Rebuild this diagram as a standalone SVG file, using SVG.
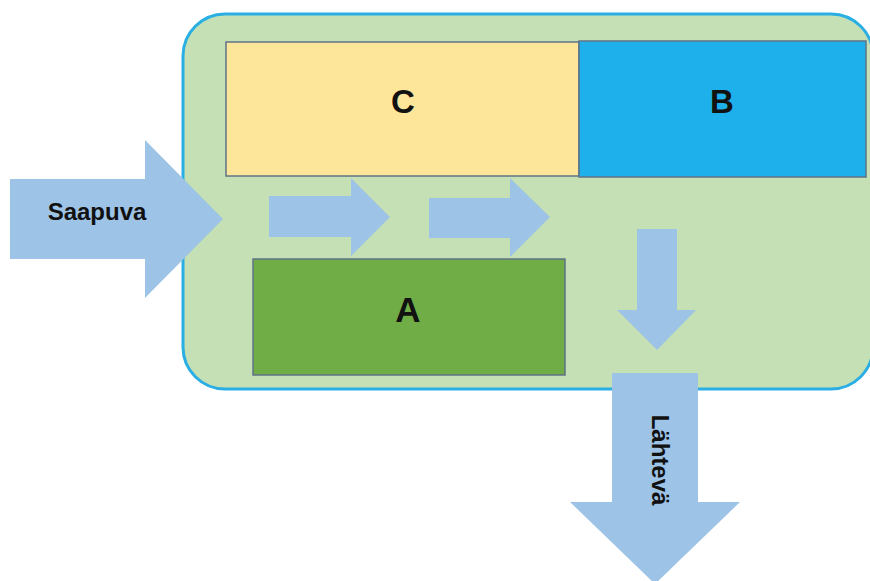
<svg xmlns="http://www.w3.org/2000/svg" width="870" height="581" viewBox="0 0 870 581">
<style>
.arrow{fill:#9dc3e6;stroke:none}
.box{stroke:#5f7386;stroke-width:1.5}
.lbl{font-family:"Liberation Sans",Arial,sans-serif;font-weight:700;fill:#111;text-anchor:middle;dominant-baseline:central}
</style>
<rect x="0" y="0" width="870" height="581" fill="#ffffff"/>
<g id="container">
<rect x="183" y="14" width="690" height="375" rx="42" ry="42" fill="#c5e0b4" stroke="#2aaee3" stroke-width="3"/>
</g>
<g id="C">
<rect class="box" x="226" y="42" width="353" height="134" fill="#fde59a"/>
<text class="lbl" x="403" y="101" font-size="33">C</text>
</g>
<g id="B">
<rect class="box" x="579" y="41" width="287" height="136" fill="#1eb0ea"/>
<text class="lbl" x="722" y="101" font-size="33">B</text>
</g>
<g id="A">
<rect class="box" x="253" y="259" width="312" height="116" fill="#70ad47"/>
<text class="lbl" x="408" y="309" font-size="35">A</text>
</g>
<g id="connectors">
<polygon class="arrow" points="10,179 145,179 145,140 223,219 145,298 145,259 10,259"/>
<polygon class="arrow" points="269,196 351,196 351,178 390,217 351,256 351,237 269,237"/>
<polygon class="arrow" points="429,198 510,198 510,178 550,217 510,257 510,238 429,238"/>
<polygon class="arrow" points="637,229 677,229 677,310 696,310 657,350 617,310 637,310"/>
<polygon class="arrow" points="612,373 698,373 698,502 740,502 655,584 570,502 612,502"/>
</g>
<g id="Saapuva">
<text class="lbl" x="97" y="211" font-size="24">Saapuva</text>
</g>
<g id="Lahteva">
<text class="lbl" x="0" y="0" font-size="24" transform="translate(660,460) rotate(90)">Lähtevä</text>
</g>
</svg>
